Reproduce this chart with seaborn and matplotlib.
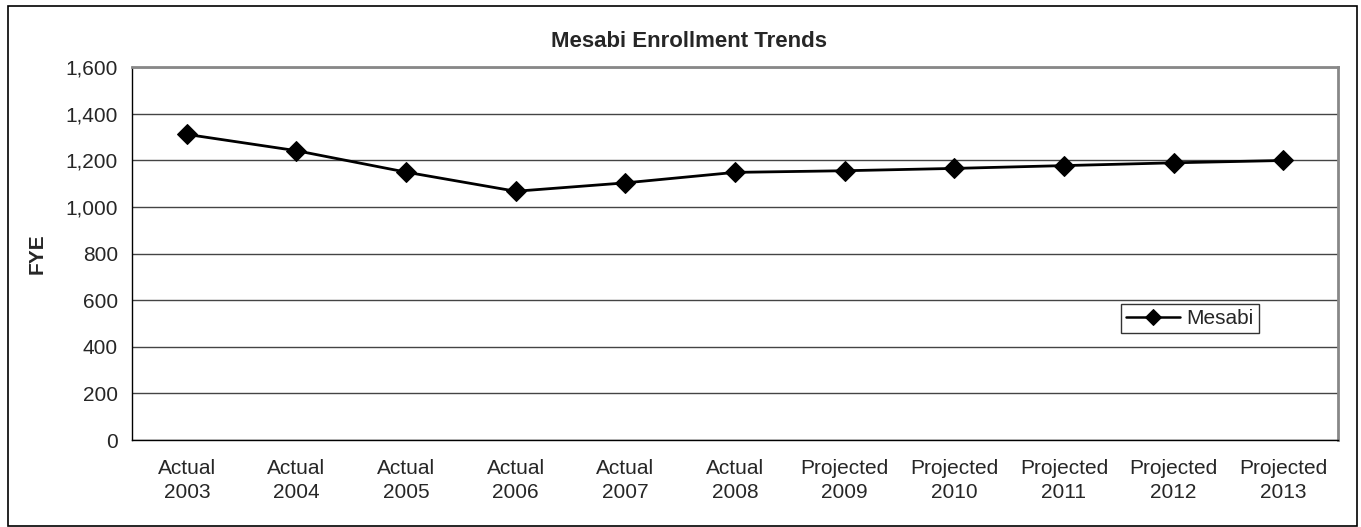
import matplotlib
matplotlib.use("Agg")
import matplotlib.pyplot as plt
import seaborn as sns
import pandas as pd
from matplotlib.patches import Rectangle
from matplotlib.ticker import FuncFormatter, MultipleLocator, FixedLocator

# Data
categories = ["Actual\n2003", "Actual\n2004", "Actual\n2005", "Actual\n2006",
              "Actual\n2007", "Actual\n2008", "Projected\n2009", "Projected\n2010",
              "Projected\n2011", "Projected\n2012", "Projected\n2013"]
mesabi = [1311, 1241, 1149, 1067, 1103, 1148, 1155, 1165, 1177, 1189, 1199]

df = pd.DataFrame({"pos": range(len(categories)), "FYE": mesabi})

sns.set_style("white")
plt.rcParams["font.family"] = ["Liberation Sans", "DejaVu Sans"]

fig = plt.figure(figsize=(13.61, 5.27), dpi=100)
ax = fig.add_axes([132 / 1361, 1 - 440 / 527, (1338 - 132) / 1361, (440 - 67) / 527])

sns.lineplot(data=df, x="pos", y="FYE", ax=ax, color="black", linewidth=2,
             marker="D", markersize=10.5, markeredgecolor="black", label="Mesabi")

# axes limits and grid
ax.set_ylim(0, 1600)
ax.set_xlim(-0.5, len(categories) - 0.5)
ax.yaxis.set_major_locator(MultipleLocator(200))
ax.yaxis.set_minor_locator(MultipleLocator(100))
ax.yaxis.set_major_formatter(FuncFormatter(lambda v, p: f"{int(v):,}"))
ax.grid(axis="y", which="major", color="#444444", linewidth=1)
ax.set_axisbelow(True)

# category ticks between categories, labels centred
ax.xaxis.set_major_locator(FixedLocator([i - 0.5 for i in range(len(categories) + 1)]))
ax.xaxis.set_major_formatter(FuncFormatter(lambda v, p: ""))
ax.xaxis.set_minor_locator(FixedLocator(range(len(categories))))
ax.set_xticklabels(categories, minor=True)
for lbl in ax.get_xticklabels(minor=True):
    lbl.set_linespacing(1.3)
ax.tick_params(axis="x", which="major", direction="out", length=5, color="black")
ax.tick_params(axis="x", which="minor", length=0, labelsize=15, pad=14)
ax.tick_params(axis="y", which="major", direction="out", length=4, labelsize=15,
               color="black", pad=6)
ax.tick_params(axis="y", which="minor", direction="out", length=4, color="black")

for side in ["top", "right"]:
    ax.spines[side].set_color("#888888")
    ax.spines[side].set_linewidth(2)
for side in ["left", "bottom"]:
    ax.spines[side].set_color("black")
    ax.spines[side].set_linewidth(1)

ax.set_xlabel("")
ax.set_ylabel("FYE", fontsize=15, fontweight="bold")
ax.yaxis.set_label_coords((47 - 132) / 1206, 0.5)
fig.text(689 / 1361, 1 - 47 / 527, "Mesabi Enrollment Trends", fontsize=16,
         fontweight="bold", ha="center", va="baseline")

leg = ax.legend(loc="upper left", bbox_to_anchor=((1121 - 132) / 1206, 1 - (304 - 67) / 373),
                frameon=True, fancybox=False, fontsize=15, handlelength=2.6,
                handletextpad=0.3, borderpad=0.25, borderaxespad=0)
leg.get_frame().set_edgecolor("black")
leg.get_frame().set_linewidth(1)
leg.legend_handles[0].set_markersize(8)
leg.legend_handles[0].set_linewidth(1.8)

# outer chart border
fig.patches.append(Rectangle((8 / 1361, 1 / 527), (1357 - 8) / 1361, 520 / 527,
                             transform=fig.transFigure, fill=False,
                             edgecolor="black", linewidth=1.2))

fig.savefig("out.png", dpi=100)
